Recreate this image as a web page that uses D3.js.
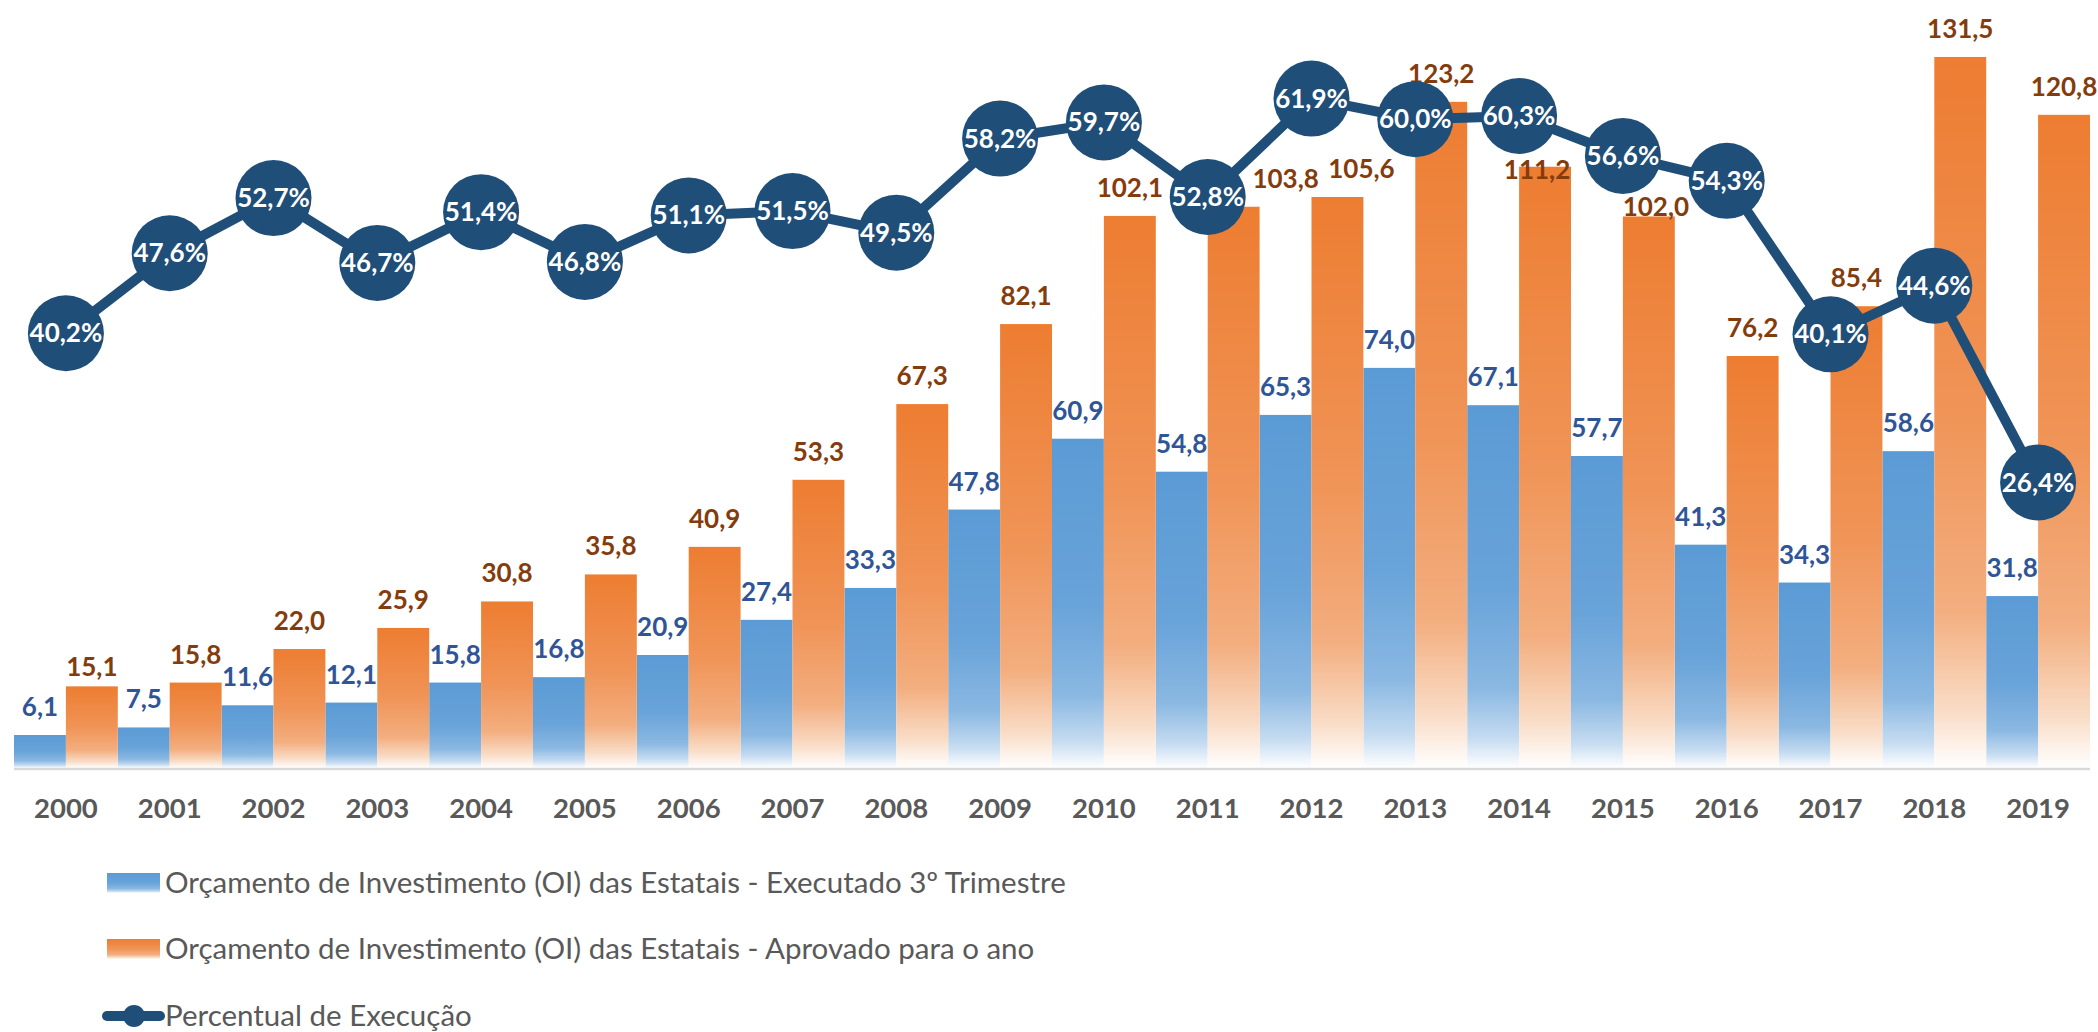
<!DOCTYPE html>
<html>
<head>
<meta charset="utf-8">
<script src="https://cdn.jsdelivr.net/npm/d3@7"></script>
<style>
  html, body { margin: 0; padding: 0; background: #ffffff; }
  svg { display: block; }
  text { font-family: Lato, "Open Sans", sans-serif; }
</style>
</head>
<body>
<svg id="chart" width="2098" height="1032"></svg>
<script>
// ---- data ----
const years = ["2000","2001","2002","2003","2004","2005","2006","2007","2008","2009",
               "2010","2011","2012","2013","2014","2015","2016","2017","2018","2019"];
const executado = [6.1, 7.5, 11.6, 12.1, 15.8, 16.8, 20.9, 27.4, 33.3, 47.8,
                   60.9, 54.8, 65.3, 74.0, 67.1, 57.7, 41.3, 34.3, 58.6, 31.8];
const aprovado = [15.1, 15.8, 22.0, 25.9, 30.8, 35.8, 40.9, 53.3, 67.3, 82.1,
                  102.1, 103.8, 105.6, 123.2, 111.2, 102.0, 76.2, 85.4, 131.5, 120.8];
const percentual = [40.2, 47.6, 52.7, 46.7, 51.4, 46.8, 51.1, 51.5, 49.5, 58.2,
                    59.7, 52.8, 61.9, 60.0, 60.3, 56.6, 54.3, 40.1, 44.6, 26.4];
const legendLabels = [
  "Orçamento de Investimento (OI) das Estatais - Executado 3º Trimestre",
  "Orçamento de Investimento (OI) das Estatais - Aprovado para o ano",
  "Percentual de Execução"
];

// ---- layout ----
const svg = d3.select("#chart");
const plotLeft = 14, plotRight = 2090, baseY = 768, topY = 11;

const x = d3.scaleBand().domain(years).range([plotLeft, plotRight]).padding(0);
const xSub = d3.scaleBand().domain(["exe", "apr"]).range([0, x.bandwidth()]).padding(0);
const y = d3.scaleLinear().domain([0, 140]).range([baseY, topY]);
const y2 = d3.scaleLinear().domain([0, 70]).range([baseY, topY]);
const fmt = v => d3.format(".1f")(v).replace(".", ",");

// manual label nudges (as moved in the original to avoid the markers)
const aprNudge = {
  "2000": [0, 9],
  "2011": [52, 0],
  "2012": [24, 0],
  "2014": [-8, 31],
  "2015": [7, 19]
};
const labelGap = 19;

// ---- gradients ----
const defs = svg.append("defs");
function grad(id, stops) {
  const g = defs.append("linearGradient").attr("id", id)
    .attr("x1", 0).attr("y1", 0).attr("x2", 0).attr("y2", 1);
  stops.forEach(s => g.append("stop").attr("offset", s[0]).attr("stop-color", s[1]));
}
grad("gBlue", [[0, "#5b9bd5"], [0.5, "#68a3d9"], [0.78, "#8ab8e2"], [0.92, "#c6dcf1"], [1, "#ffffff"]]);
grad("gOrange", [[0, "#ed7d31"], [0.5, "#f09457"], [0.78, "#f3ae7f"], [0.92, "#f9dcc6"], [1, "#ffffff"]]);

// ---- bars ----
const rows = years.map((yr, i) => ({ yr, exe: executado[i], apr: aprovado[i], pct: percentual[i] }));

const g = svg.append("g");
g.selectAll("rect.exe").data(rows).join("rect").attr("class", "exe")
  .attr("x", d => x(d.yr) + xSub("exe"))
  .attr("width", xSub.bandwidth())
  .attr("y", d => y(d.exe))
  .attr("height", d => y(0) - y(d.exe))
  .attr("fill", "url(#gBlue)");

g.selectAll("rect.apr").data(rows).join("rect").attr("class", "apr")
  .attr("x", d => x(d.yr) + xSub("apr"))
  .attr("width", xSub.bandwidth())
  .attr("y", d => y(d.apr))
  .attr("height", d => y(0) - y(d.apr))
  .attr("fill", "url(#gOrange)");

// axis line
g.append("line").attr("x1", plotLeft).attr("x2", plotRight)
  .attr("y1", baseY + 1).attr("y2", baseY + 1)
  .attr("stroke", "#d9d9d9").attr("stroke-width", 2.5);

// x axis labels
const xAxis = d3.axisBottom(x).tickSize(0).tickPadding(0);
const ax = svg.append("g").attr("transform", `translate(0,${baseY})`).call(xAxis);
ax.select(".domain").remove();
ax.selectAll("text")
  .attr("dy", 0).attr("y", 50)
  .attr("font-family", "Lato, sans-serif")
  .attr("font-size", 27.5).attr("font-weight", "bold").attr("fill", "#595959");

// bar labels
g.selectAll("text.lexe").data(rows).join("text").attr("class", "lexe")
  .attr("x", d => x(d.yr) + xSub("exe") + xSub.bandwidth() / 2)
  .attr("y", d => y(d.exe) - labelGap)
  .attr("text-anchor", "middle")
  .attr("font-size", 26).attr("font-weight", "bold").attr("fill", "#2f5597")
  .text(d => fmt(d.exe));

g.selectAll("text.lapr").data(rows).join("text").attr("class", "lapr")
  .attr("x", d => x(d.yr) + xSub("apr") + xSub.bandwidth() / 2 + (aprNudge[d.yr] ? aprNudge[d.yr][0] : 0))
  .attr("y", d => y(d.apr) - labelGap + (aprNudge[d.yr] ? aprNudge[d.yr][1] : 0))
  .attr("text-anchor", "middle")
  .attr("font-size", 26).attr("font-weight", "bold").attr("fill", "#843c0c")
  .text(d => fmt(d.apr));

// ---- line ----
const cx = d => x(d.yr) + x.bandwidth() / 2;
const line = d3.line().x(cx).y(d => y2(d.pct));
svg.append("path").datum(rows)
  .attr("d", line).attr("fill", "none")
  .attr("stroke", "#1f4e79").attr("stroke-width", 10).attr("stroke-linejoin", "round");

svg.selectAll("circle.pt").data(rows).join("circle").attr("class", "pt")
  .attr("cx", cx).attr("cy", d => y2(d.pct)).attr("r", 38)
  .attr("fill", "#1f4e79");

svg.selectAll("text.lpct").data(rows).join("text").attr("class", "lpct")
  .attr("x", cx).attr("y", d => y2(d.pct) + 9)
  .attr("text-anchor", "middle")
  .attr("font-size", 26).attr("font-weight", "bold").attr("fill", "#ffffff")
  .text(d => fmt(d.pct) + "%");

// ---- legend ----
const legY = [883, 949, 1016];
const leg = svg.append("g");
leg.append("rect").attr("x", 107).attr("y", legY[0] - 10).attr("width", 53).attr("height", 20).attr("fill", "url(#gBlue)");
leg.append("rect").attr("x", 107).attr("y", legY[1] - 10).attr("width", 53).attr("height", 20).attr("fill", "url(#gOrange)");
leg.append("line").attr("x1", 107).attr("x2", 160).attr("y1", legY[2]).attr("y2", legY[2])
  .attr("stroke", "#1f4e79").attr("stroke-width", 10).attr("stroke-linecap", "round");
leg.append("circle").attr("cx", 134).attr("cy", legY[2]).attr("r", 11).attr("fill", "#1f4e79");
leg.selectAll("text.leg").data(legendLabels).join("text").attr("class", "leg")
  .attr("x", 165).attr("y", (d, i) => legY[i] + 10)
  .attr("font-size", 29.5).attr("fill", "#595959")
  .text(d => d);
</script>
</body>
</html>
